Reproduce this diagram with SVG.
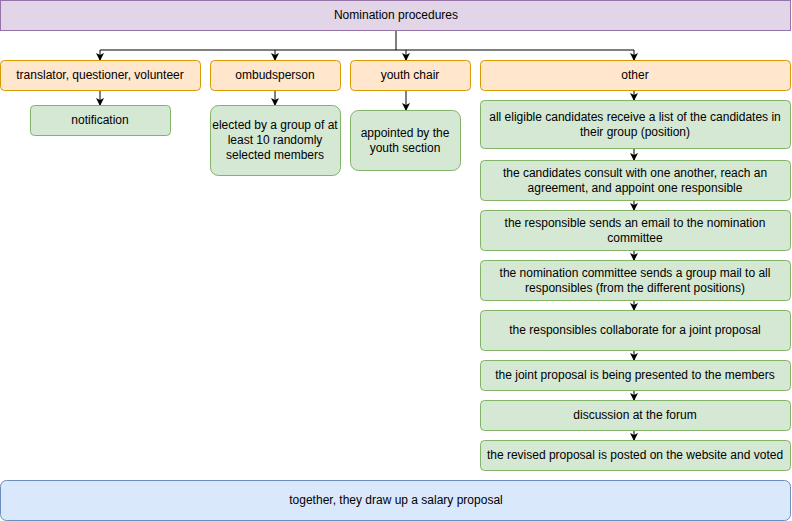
<svg xmlns="http://www.w3.org/2000/svg" width="792" height="521" viewBox="0 0 792 521">
<style>
text{font-family:"Liberation Sans",Arial,sans-serif;font-size:12px;fill:#000;text-anchor:middle;dominant-baseline:central}
.p{fill:#e1d5e7;stroke:#9673a6}
.o{fill:#ffe6cc;stroke:#d79b00}
.g{fill:#d5e8d4;stroke:#82b366}
.b{fill:#dae8fc;stroke:#6c8ebf}
.c{stroke:#000;fill:none;marker-end:url(#a)}
</style>
<defs><marker id="a" markerWidth="8" markerHeight="8" refX="7" refY="4" orient="auto" markerUnits="userSpaceOnUse"><path d="M0,0L8,4L0,8L2,4Z" fill="#000"/></marker></defs>
<g id="connectors">
<path class="c" d="M396,30V50H100V60"/>
<path class="c" d="M275,50V60"/>
<path class="c" d="M406,50V60"/>
<path class="c" d="M396,50H634V60"/>
<path class="c" d="M100,90V105"/>
<path class="c" d="M275,90V105"/>
<path class="c" d="M406,90V110"/>
<path class="c" d="M634,90V100"/>
<path class="c" d="M634,148V160"/>
<path class="c" d="M634,200V210"/>
<path class="c" d="M634,250V260"/>
<path class="c" d="M634,300V310"/>
<path class="c" d="M634,350V360"/>
<path class="c" d="M634,390V400"/>
<path class="c" d="M634,430V440"/>
</g>
<g id="top"><rect class="p" x="0.5" y="0.5" width="790" height="30"/><text x="396" y="15">Nomination procedures</text></g>
<g id="translator"><rect class="o" x="0.5" y="60.5" width="200" height="30" rx="4"/><text x="100" y="75">translator, questioner, volunteer</text></g>
<g id="ombud"><rect class="o" x="210.5" y="60.5" width="130" height="30" rx="4"/><text x="275" y="75">ombudsperson</text></g>
<g id="youth"><rect class="o" x="350.5" y="60.5" width="120" height="30" rx="4"/><text x="410" y="75">youth chair</text></g>
<g id="other"><rect class="o" x="480.5" y="60.5" width="310" height="30" rx="4"/><text x="635" y="75">other</text></g>
<g id="notification"><rect class="g" x="30.5" y="105.5" width="140" height="30" rx="4"/><text x="100" y="120">notification</text></g>
<g id="elected"><rect class="g" x="210.5" y="105.5" width="130" height="70" rx="8"/><text x="275" y="125">elected by a group of at</text><text x="275" y="140">least 10 randomly</text><text x="275" y="155">selected members</text></g>
<g id="appointed"><rect class="g" x="350.5" y="110.5" width="110" height="60" rx="8"/><text x="405" y="133">appointed by the</text><text x="405" y="148">youth section</text></g>
<g id="s1"><rect class="g" x="480.5" y="100.5" width="310" height="48" rx="4"/><text x="635" y="117">all eligible candidates receive a list of the candidates in</text><text x="635" y="132">their group (position)</text></g>
<g id="s2"><rect class="g" x="480.5" y="160.5" width="310" height="40" rx="4"/><text x="635" y="173">the candidates consult with one another, reach an</text><text x="635" y="188">agreement, and appoint one responsible</text></g>
<g id="s3"><rect class="g" x="480.5" y="210.5" width="310" height="40" rx="4"/><text x="635" y="223">the responsible sends an email to the nomination</text><text x="635" y="238">committee</text></g>
<g id="s4"><rect class="g" x="480.5" y="260.5" width="310" height="40" rx="4"/><text x="635" y="273">the nomination committee sends a group mail to all</text><text x="635" y="288">responsibles (from the different positions)</text></g>
<g id="s5"><rect class="g" x="480.5" y="310.5" width="310" height="40" rx="4"/><text x="635" y="330">the responsibles collaborate for a joint proposal</text></g>
<g id="s6"><rect class="g" x="480.5" y="360.5" width="310" height="30" rx="4"/><text x="635" y="375">the joint proposal is being presented to the members</text></g>
<g id="s7"><rect class="g" x="480.5" y="400.5" width="310" height="30" rx="4"/><text x="635" y="415">discussion at the forum</text></g>
<g id="s8"><rect class="g" x="480.5" y="440.5" width="310" height="30" rx="4"/><text x="635" y="455">the revised proposal is posted on the website and voted</text></g>
<g id="bottom"><rect class="b" x="0.5" y="480.5" width="790" height="40" rx="6"/><text x="396" y="500">together, they draw up a salary proposal</text></g>
</svg>
